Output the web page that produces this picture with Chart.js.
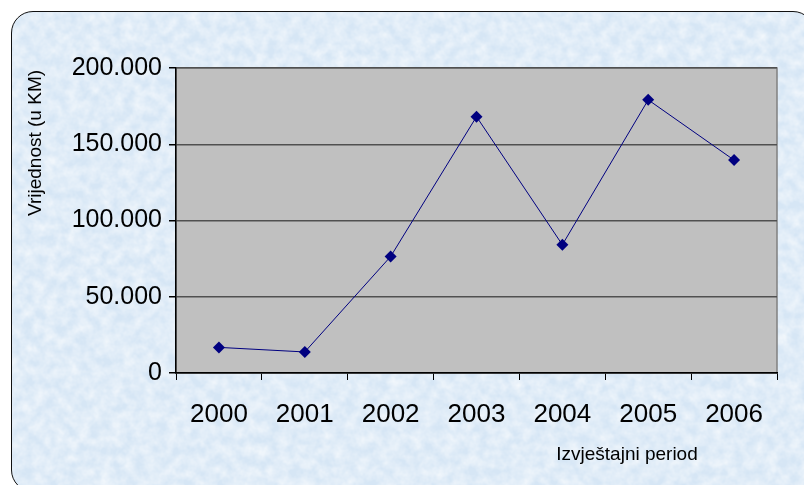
<!DOCTYPE html>
<html>
<head>
<meta charset="utf-8">
<script src="https://cdn.jsdelivr.net/npm/chart.js@4"></script>
<style>
html, body { margin: 0; padding: 0; background: #fff; overflow: hidden; }
#frame {
	position: absolute; left: 11px; top: 11px; width: 804px; height: 481px;
	box-sizing: border-box;
	border: 1.5px solid #111; border-radius: 22px;
	background-color: #d6e6f5;
	background-image: url("data:image/svg+xml,%3Csvg xmlns='http://www.w3.org/2000/svg' width='804' height='481'%3E%3Cfilter id='n'%3E%3CfeTurbulence type='fractalNoise' baseFrequency='0.09' numOctaves='3' seed='7'/%3E%3CfeColorMatrix values='0 0 0 0 1 0 0 0 0 1 0 0 0 0 1 1.0 0 0 0 -0.25'/%3E%3C/filter%3E%3Crect width='100%25' height='100%25' filter='url(%23n)'/%3E%3C/svg%3E");
}
#wrap { position: absolute; left: 0; top: 0; width: 804px; height: 485px; }
</style>
</head>
<body>
<div id="frame"></div>
<div id="wrap"><canvas id="valueChart" width="804" height="485"></canvas></div>
<script>
var years = ['2000', '2001', '2002', '2003', '2004', '2005', '2006'];
var values = [16800, 13800, 76400, 168100, 84100, 179100, 139600];
var yTicks = [0, 50000, 100000, 150000, 200000];
var yTitle = 'Vrijednost (u KM)';
var xTitle = 'Izvještajni period';

var valueChart = null;

function formatKM(v) {
	return String(v).replace(/\B(?=(\d{3})+(?!\d))/g, '.');
}

// gray plot area with the thin border, like the old excel charts
var plotArea = {
	id: 'plotArea',
	beforeDraw: function (chart) {
		var ctx = chart.ctx, a = chart.chartArea;
		ctx.save();
		ctx.fillStyle = '#c0c0c0';
		ctx.fillRect(a.left, a.top, a.right - a.left, a.bottom - a.top);
		ctx.strokeStyle = '#808080';
		ctx.lineWidth = 1.5;
		ctx.strokeRect(a.left, a.top, a.right - a.left, a.bottom - a.top);
		ctx.restore();
	},
	afterDraw: function (chart) {
		var ctx = chart.ctx;
		ctx.save();
		ctx.fillStyle = '#000';
		ctx.font = '19px "Liberation Sans", Arial, sans-serif';
		ctx.textAlign = 'center';
		ctx.textBaseline = 'alphabetic';
		ctx.fillText(xTitle, 627, 460);
		ctx.translate(41, 143);
		ctx.rotate(-Math.PI / 2);
		ctx.fillText(yTitle, 0, 0);
		ctx.restore();
	}
};

function refreshValueChart() {
	var ctx = document.getElementById('valueChart').getContext('2d');
	if (valueChart != null) valueChart.destroy();
	valueChart = new Chart(ctx, {
		type: 'line',
		data: {
			labels: years,
			datasets: [{
				data: values,
				borderColor: '#000080',
				borderWidth: 1,
				backgroundColor: '#000080',
				pointStyle: 'rectRot',
				pointRadius: 6,
				pointBorderWidth: 0,
				tension: 0
			}]
		},
		options: {
			responsive: false,
			animation: false,
			layout: { padding: { left: 0, top: 68, right: 27, bottom: 0 } },
			plugins: { legend: { display: false }, tooltip: { enabled: false } },
			scales: {
				x: {
					offset: true,
					afterFit: function (s) { s.height = 112; },
					grid: { offset: true, drawOnChartArea: false, tickLength: 7, tickColor: '#000', lineWidth: 1 },
					border: { color: '#000', width: 1.5 },
					ticks: { color: '#000', padding: 19, font: { family: '"Liberation Sans", Arial, sans-serif', size: 26 } }
				},
				y: {
					min: 0,
					max: 200000,
					afterFit: function (s) { s.width = 176; },
					afterBuildTicks: function (s) { s.ticks = yTicks.map(function (v) { return { value: v }; }); },
					grid: { color: '#505050', lineWidth: 1.5, tickLength: 7, tickColor: '#000' },
					border: { color: '#000', width: 1.5 },
					ticks: {
						color: '#000', padding: 7,
						font: { family: '"Liberation Sans", Arial, sans-serif', size: 25 },
						callback: function (v) { return formatKM(v); }
					}
				}
			}
		},
		plugins: [plotArea]
	});
}

refreshValueChart();
</script>
</body>
</html>
